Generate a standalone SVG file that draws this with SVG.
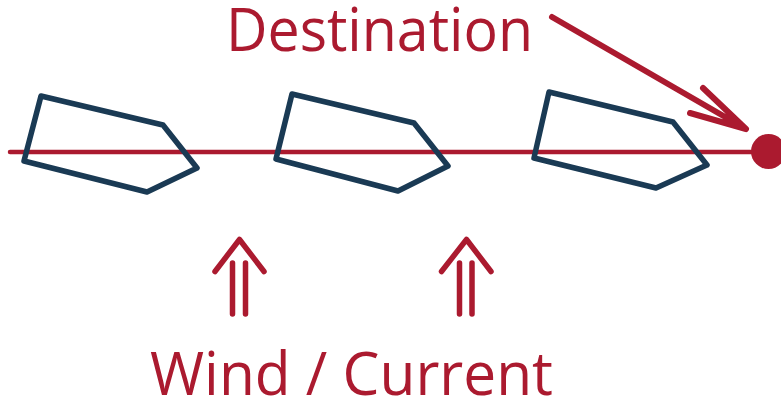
<svg xmlns="http://www.w3.org/2000/svg" width="781" height="403" viewBox="0 0 781 403">
<style>
.r{fill:none;stroke:#ab1a2f;stroke-linecap:round;stroke-linejoin:round}
.b{fill:none;stroke:#1a3a54;stroke-width:5.500;stroke-linejoin:round}
.t{fill:#ab1a2f;font-family:"Open Sans","Noto Sans",sans-serif;font-size:60px}
</style>
<rect width="781" height="403" fill="#fff"/>
<g id="connectors">
<path id="course" class="r" stroke-width="4.500" d="M10 152H760"/>
<path id="dest-arrow" class="r" stroke-width="6" d="M552 17L746 129M703 88L746 129L690 113"/>
<path id="wind-arrow-1" class="r" stroke-width="5.500" d="M215 271.500L239.500 239.500L264 271.500M232.500 263V314M245.500 263V314"/>
<path id="wind-arrow-2" class="r" stroke-width="5.500" d="M441.500 271.500L466.500 239.500L491 271.500M459.500 263V314M472 263V314"/>
</g>
<g id="boat-1"><path class="b" d="M41 96L163 125L197 168L147 192L24 161Z"/></g>
<g id="boat-2"><path class="b" d="M292 94L414 123L448 166L398 191L276 159Z"/></g>
<g id="boat-3"><path class="b" d="M549 92L673 122L707 165L656 188L534 158Z"/></g>
<g id="destination-dot"><circle cx="768.500" cy="151.500" r="17.500" fill="#ab1a2f"/></g>
<g id="label-destination"><text class="t" x="226" y="51" textLength="307" lengthAdjust="spacingAndGlyphs">Destination</text></g>
<g id="label-wind"><text class="t" x="150" y="395" textLength="403" lengthAdjust="spacingAndGlyphs">Wind / Current</text></g>
</svg>
